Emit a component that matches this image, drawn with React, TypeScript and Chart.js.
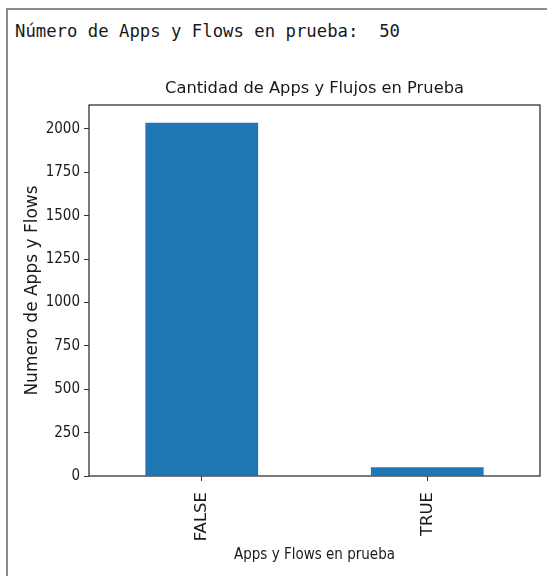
import React, { useEffect, useRef } from "react";
import { Chart, registerables } from "chart.js";

Chart.register(...registerables);

const categories = ["FALSE", "TRUE"];
const counts = [2036, 50];
const yTicks = [0, 250, 500, 750, 1000, 1250, 1500, 1750, 2000];
const headerText = "Número de Apps y Flows en prueba:  50";
const chartTitle = "Cantidad de Apps y Flujos en Prueba";
const xTitle = "Apps y Flows en prueba";
const yTitle = "Numero de Apps y Flows";

const TEXT = "#1a1a1a";
const AXIS = "#333333";

const framePlugin = {
  id: "frame",
  afterDatasetsDraw(chart: any) {
    const { ctx, chartArea } = chart;
    const { left, top, right, bottom } = chartArea;
    ctx.save();
    ctx.strokeStyle = AXIS;
    ctx.lineWidth = 1.3;
    ctx.strokeRect(left, top, right - left, bottom - top);
    ctx.restore();
  },
};

const centeredTitlePlugin = {
  id: "centeredTitle",
  afterDraw(chart: any) {
    const { ctx, chartArea } = chart;
    ctx.save();
    ctx.fillStyle = TEXT;
    ctx.font = "16.3px 'DejaVu Sans'";
    ctx.textAlign = "center";
    ctx.textBaseline = "alphabetic";
    ctx.fillText(chartTitle, (chartArea.left + chartArea.right) / 2, chartArea.top - 12);
    ctx.restore();
  },
};

export default function App() {
  const ref = useRef<HTMLCanvasElement | null>(null);

  useEffect(() => {
    if (!ref.current) return;
    const yMax = Math.max(...counts) * 1.05;
    const chart = new Chart(ref.current, {
      type: "bar",
      data: {
        labels: categories,
        datasets: [
          {
            data: counts,
            backgroundColor: "#1f77b4",
            borderWidth: 0,
            categoryPercentage: 0.5,
            barPercentage: 1,
          },
        ],
      },
      options: {
        responsive: false,
        animation: false,
        devicePixelRatio: 1,
        layout: { padding: { left: 0, right: 7, top: 105, bottom: 0 } },
        plugins: {
          legend: { display: false },
          tooltip: { enabled: false },
          title: { display: false },
        },
        scales: {
          x: {
            offset: true,
            afterFit(s: any) {
              s.height = 100;
            },
            grid: {
              offset: false,
              drawOnChartArea: false,
              drawTicks: true,
              tickLength: 5,
              color: AXIS,
            },
            border: { display: false },
            ticks: {
              autoSkip: false,
              maxRotation: 90,
              minRotation: 90,
              padding: 11,
              color: TEXT,
              font: { family: "'DejaVu Sans'", size: 16.5 },
            },
            title: {
              display: true,
              text: xTitle,
              color: TEXT,
              font: { family: "'DejaVu Sans Condensed', 'DejaVu Sans'", size: 15 },
              padding: { top: 0, bottom: 12 },
            },
          },
          y: {
            min: 0,
            max: yMax,
            afterFit(s: any) {
              s.width = 89;
            },
            afterBuildTicks(s: any) {
              s.ticks = yTicks.map((v) => ({ value: v }));
            },
            grid: {
              drawOnChartArea: false,
              drawTicks: true,
              tickLength: 5,
              color: AXIS,
            },
            border: { display: false },
            ticks: {
              padding: 4,
              color: TEXT,
              font: { family: "'DejaVu Sans Condensed', 'DejaVu Sans'", size: 15 },
              callback: (v: any) => String(v),
            },
            title: {
              display: true,
              text: yTitle,
              color: TEXT,
              font: { family: "'DejaVu Sans'", size: 17 },
              padding: { top: 22.4, bottom: 0 },
            },
          },
        },
      },
      plugins: [framePlugin, centeredTitlePlugin],
    });
    return () => chart.destroy();
  }, []);

  return (
    <div
      style={{
        position: "fixed",
        left: 0,
        top: 0,
        width: 547,
        height: 576,
        background: "#ffffff",
        overflow: "hidden",
      }}
    >
      <div
        style={{
          position: "absolute",
          left: 6,
          top: 8,
          width: 2,
          height: 568,
          background: "#8a8a8a",
        }}
      />
      <div
        style={{
          position: "absolute",
          left: 6,
          top: 8,
          width: 541,
          height: 2,
          background: "#8a8a8a",
        }}
      />
      <div
        style={{
          position: "absolute",
          left: 15,
          top: 23,
          fontFamily: "'DejaVu Sans Mono', monospace",
          fontSize: 17.3,
          lineHeight: "17px",
          whiteSpace: "pre",
          color: TEXT,
        }}
      >
        {headerText}
      </div>
      <canvas
        ref={ref}
        width={547}
        height={576}
        style={{ position: "absolute", left: 0, top: 0, width: 547, height: 576, display: "block" }}
      />
    </div>
  );
}
